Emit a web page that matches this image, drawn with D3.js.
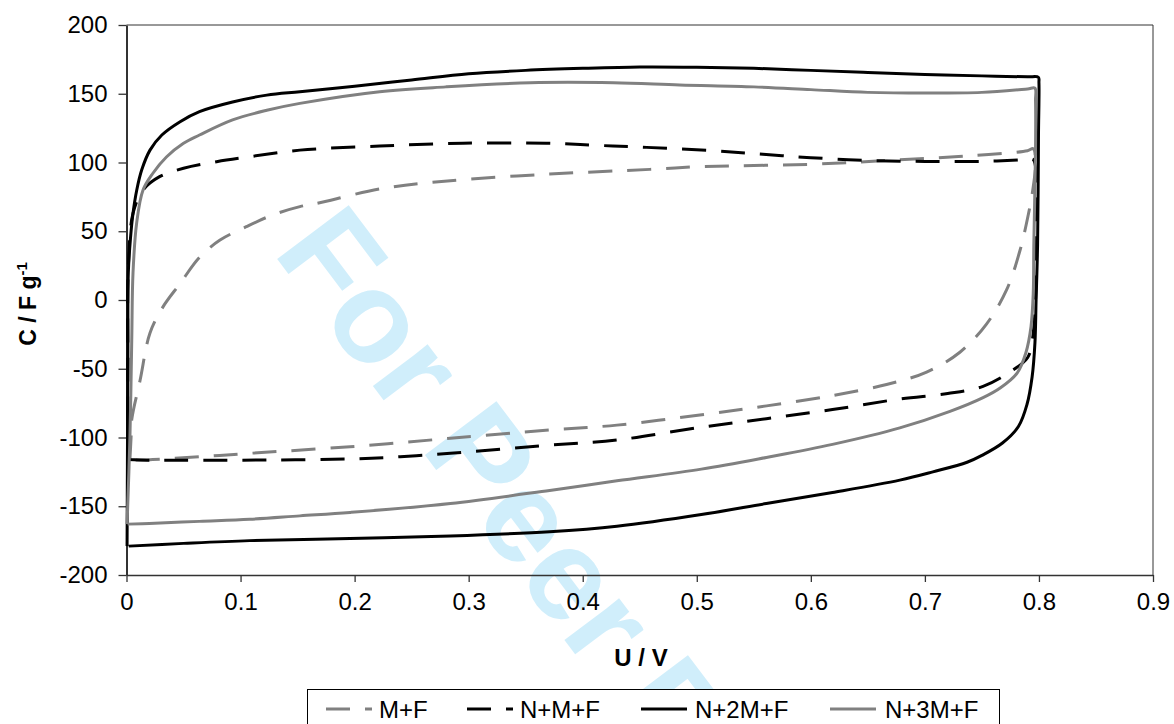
<!DOCTYPE html>
<html>
<head>
<meta charset="utf-8">
<script src="https://cdn.jsdelivr.net/npm/d3@7"></script>
<style>
  html, body { margin: 0; padding: 0; background: #fff; }
  svg { display: block; }
  text { font-family: "Liberation Sans", Arial, sans-serif; }
</style>
</head>
<body>
<svg id="chart" width="1174" height="724"></svg>
<script>
// ---- data (U / V, C / F g-1), each series a closed CV loop ----
const seriesNames = ["M+F", "N+M+F", "N+2M+F", "N+3M+F"];

const mfLoop = [
  [0.003,-116],[0.004,-100],[0.0046,-87],[0.012,-58],[0.0206,-24],[0.032,-5],[0.047,12],
  [0.064,31],[0.082,43.6],[0.105,53.3],[0.128,61.8],[0.152,67.9],[0.167,70.3],[0.225,81.2],
  [0.284,86.8],[0.371,91.6],[0.459,95],[0.504,97],[0.6,98.7],[0.678,102],[0.737,104.7],
  [0.79,108.6],[0.795,110],[0.797,100],[0.7946,80],[0.7906,61.8],[0.7833,35.8],[0.7716,7.3],
  [0.754,-17.5],[0.7307,-38],[0.7015,-52.4],[0.6664,-61.5],[0.6194,-69.4],[0.5612,-77],
  [0.5027,-83.6],[0.43,-91],[0.371,-94.5],[0.284,-100.6],[0.196,-106.7],[0.108,-111.5],
  [0.064,-114],[0.01,-116.4],[0.003,-116]
];

const nmfLoop = [
  [0.001,-116],[0.0012,-50],[0.0016,24],[0.0057,63],[0.0145,80],[0.029,89.7],[0.05,95.8],
  [0.079,100.6],[0.108,104.2],[0.152,109],[0.222,112],[0.295,114],[0.368,114],[0.412,112.5],
  [0.456,111],[0.514,108.6],[0.558,106],[0.6,103.5],[0.65,101.5],[0.7,100.8],[0.75,100.8],
  [0.79,102],[0.795,102],[0.7975,60],[0.797,0],[0.794,-30],[0.79,-42],[0.7745,-52.4],
  [0.751,-62.8],[0.72,-68],[0.678,-72],[0.619,-79.7],[0.561,-86.3],[0.504,-92.5],[0.43,-101.8],
  [0.371,-105.5],[0.284,-111.5],[0.24,-114],[0.196,-115.6],[0.123,-116.4],[0.05,-116.5],
  [0.012,-116.4],[0.001,-116]
];

const n2mfLoop = [
  [0.0005,-179],[0.0008,-120],[0.0012,-40],[0.0016,20],[0.0035,45],[0.0057,63],[0.009,80],
  [0.0133,94.5],[0.0206,109],[0.031,120],[0.047,129.7],[0.064,137],[0.093,144],[0.123,149],
  [0.152,151.5],[0.2,155.5],[0.25,160],[0.3,164.5],[0.35,167],[0.4,168.5],[0.45,169.5],
  [0.5,169.3],[0.55,168.5],[0.6,167],[0.65,165.5],[0.7,164],[0.75,163],[0.79,162.3],
  [0.7995,162],[0.8,158],[0.7996,120],[0.7988,40],[0.7975,0],[0.7965,-31],[0.794,-56],
  [0.7895,-76],[0.782,-92],[0.768,-104],[0.75,-113],[0.737,-118],[0.707,-125],[0.678,-131],
  [0.619,-140],[0.561,-148],[0.504,-156],[0.43,-164.5],[0.371,-168.5],[0.284,-171.6],
  [0.196,-173.5],[0.108,-175],[0.05,-177],[0.002,-179]
];

const n3mfLoop = [
  [0.0005,-163],[0.003,-100],[0.0046,-29],[0.0057,19.6],[0.0089,56],[0.0145,80],[0.023,92],
  [0.035,104],[0.05,114],[0.064,120],[0.093,131],[0.123,138],[0.152,143],[0.222,151.5],
  [0.28,155],[0.354,158],[0.427,158],[0.485,156.4],[0.55,155],[0.6,153],[0.65,151],
  [0.7,150.5],[0.75,151],[0.79,153.5],[0.7965,154],[0.797,145],[0.797,109],[0.7955,40],
  [0.795,5],[0.793,-19.6],[0.7885,-38.5],[0.781,-53],[0.766,-64],[0.751,-71],[0.722,-81],
  [0.678,-93],[0.619,-105],[0.561,-114.5],[0.504,-123],[0.43,-131.5],[0.371,-138.5],
  [0.284,-148],[0.196,-154.5],[0.152,-157],[0.108,-159.5],[0.064,-161],[0.02,-162.5],[0.001,-163]
];

const xTicks = [0, 0.1, 0.2, 0.3, 0.4, 0.5, 0.6, 0.7, 0.8, 0.9];
const xTickLabels = ["0", "0.1", "0.2", "0.3", "0.4", "0.5", "0.6", "0.7", "0.8", "0.9"];
const yTicks = [-200, -150, -100, -50, 0, 50, 100, 150, 200];
const yTickLabels = ["-200", "-150", "-100", "-50", "0", "50", "100", "150", "200"];

// ---- layout ----
const svg = d3.select("#chart");
const plot = { left: 126.5, right: 1153, top: 25, bottom: 575 };
const x = d3.scaleLinear().domain([0, 0.9]).range([plot.left, plot.right]);
const y = d3.scaleLinear().domain([-200, 200]).range([plot.bottom, plot.top]);

svg.append("rect").attr("width", 1174).attr("height", 724).attr("fill", "#fff");

// watermark
svg.append("text")
  .attr("transform", "translate(272,252) rotate(53)")
  .attr("font-size", 130)
  .attr("font-weight", "bold")
  .attr("fill", "rgb(208,238,251)")
  .text("For Peer Review");

// frame (top / right)
svg.append("line").attr("x1", plot.left).attr("x2", plot.right).attr("y1", plot.top).attr("y2", plot.top)
  .attr("stroke", "#333").attr("stroke-width", 1);
svg.append("line").attr("x1", plot.right).attr("x2", plot.right).attr("y1", plot.top).attr("y2", plot.bottom)
  .attr("stroke", "#333").attr("stroke-width", 1);

// axes
const xAxis = d3.axisBottom(x).tickValues(xTicks).tickSizeInner(7).tickSizeOuter(0).tickPadding(11)
  .tickFormat((d, i) => xTickLabels[i]);
const yAxis = d3.axisLeft(y).tickValues(yTicks).tickSizeInner(8).tickSizeOuter(0).tickPadding(11)
  .tickFormat((d, i) => yTickLabels[i]);

const gx = svg.append("g").attr("transform", `translate(0,${plot.bottom})`).call(xAxis);
const gy = svg.append("g").attr("transform", `translate(${plot.left},0)`).call(yAxis);
[gx, gy].forEach(g => {
  g.selectAll("text").attr("font-size", 24).attr("fill", "#000")
    .style("font-family", '"Liberation Sans", Arial, sans-serif');
  g.selectAll("line").attr("stroke", "#333").attr("stroke-width", 1.3);
});
gx.select(".domain").attr("stroke", "#333").attr("stroke-width", 1.5);
gy.select(".domain").attr("stroke", "#333").attr("stroke-width", 2);

// axis titles
svg.append("text").attr("x", 641).attr("y", 666).attr("text-anchor", "middle")
  .attr("font-size", 24).attr("font-weight", "bold").text("U / V");
const yt = svg.append("text").attr("transform", "translate(36,304) rotate(-90)")
  .attr("text-anchor", "middle").attr("font-size", 23).attr("font-weight", "bold");
yt.append("tspan").text("C / F g");
yt.append("tspan").attr("dy", -9).attr("font-size", 15).text("-1");

// series
const styles = [
  { data: mfLoop,   color: "#808080", dash: "24,15" },
  { data: nmfLoop,  color: "#000000", dash: "24,15" },
  { data: n2mfLoop, color: "#000000", dash: null },
  { data: n3mfLoop, color: "#808080", dash: null }
];
const line = d3.line().x(d => x(d[0])).y(d => y(d[1])).curve(d3.curveCatmullRom.alpha(0.5));
styles.forEach(s => {
  svg.append("path").datum(s.data).attr("d", line)
    .attr("fill", "none").attr("stroke", s.color).attr("stroke-width", 3)
    .attr("stroke-dasharray", s.dash).attr("stroke-linejoin", "round");
});

// legend
const lg = svg.append("g");
lg.append("rect").attr("x", 307.5).attr("y", 689.5).attr("width", 692).attr("height", 60)
  .attr("fill", "#fff").attr("stroke", "#000").attr("stroke-width", 1);
const legendX = [326, 467, 641, 830];
const legendTextX = [379, 520, 695, 885];
seriesNames.forEach((name, i) => {
  lg.append("line").attr("x1", legendX[i]).attr("x2", legendX[i] + 46).attr("y1", 709).attr("y2", 709)
    .attr("stroke", styles[i].color).attr("stroke-width", 3).attr("stroke-dasharray", styles[i].dash);
  lg.append("text").attr("x", legendTextX[i]).attr("y", 718).attr("font-size", 24).text(name);
});
</script>
</body>
</html>
